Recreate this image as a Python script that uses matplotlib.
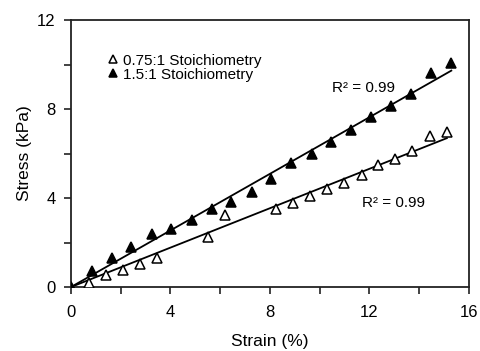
import numpy as np
import matplotlib
matplotlib.use("Agg")
import matplotlib.pyplot as plt
from matplotlib.ticker import MultipleLocator

plt.rcParams['font.family'] = ['Liberation Sans', 'DejaVu Sans']

# 0.75:1 stoichiometry (open triangles)
strain_a = [0, 0.72, 1.41, 2.10, 2.77, 3.47, 5.51, 6.18, 8.26, 8.93, 9.62,
            10.30, 10.98, 11.69, 12.34, 13.02, 13.72, 14.42, 15.11]
stress_a = [0, 0.19, 0.54, 0.76, 1.02, 1.32, 2.23, 3.24, 3.49, 3.76, 4.09,
            4.39, 4.69, 5.02, 5.47, 5.75, 6.11, 6.79, 6.95]

# 1.5:1 stoichiometry (filled triangles)
strain_b = [0, 0.83, 1.63, 2.41, 3.24, 4.04, 4.85, 5.65, 6.45, 7.28, 8.06,
            8.86, 9.67, 10.47, 11.27, 12.08, 12.88, 13.68, 14.49, 15.29]
stress_b = [0, 0.72, 1.29, 1.81, 2.37, 2.59, 3.01, 3.50, 3.80, 4.28, 4.84,
            5.59, 6.00, 6.53, 7.06, 7.65, 8.13, 8.67, 9.63, 10.08]

labels = ['0.75:1 Stoichiometry', '1.5:1 Stoichiometry']
r2_text = 'R² = 0.99'

fig = plt.figure(figsize=(4.81, 3.51), dpi=100)
ax = fig.add_axes([0.1476, 0.1823, 0.8274, 0.7607])

ink = '#222222'
for xs, ys, fill, lab in [(strain_a, stress_a, 'white', labels[0]),
                          (strain_b, stress_b, 'black', labels[1])]:
    x = np.array(xs); y = np.array(ys)
    slope = np.sum(x * y) / np.sum(x * x)   # trendline through origin
    xl = np.array([0, x.max()])
    ax.plot(xl, slope * xl, color='black', lw=1.3, zorder=2)
    ax.plot(x, y, ls='none', marker='^', ms=6.5, mfc=fill, mec='black',
            mew=1.1, label=lab, zorder=3)

ax.text(10.5, 8.95, r2_text, fontsize=11, va='center', ha='left')
ax.text(11.7, 3.78, r2_text, fontsize=11, va='center', ha='left')

ax.set_xlim(0, 16); ax.set_ylim(0, 12)
ax.xaxis.set_major_locator(MultipleLocator(4))
ax.xaxis.set_minor_locator(MultipleLocator(2))
ax.yaxis.set_major_locator(MultipleLocator(4))
ax.yaxis.set_minor_locator(MultipleLocator(2))
ax.tick_params(which='both', direction='out', length=5, width=1.2,
               color=ink, labelsize=12, top=False, right=False)
ax.tick_params(axis='x', pad=8)
ax.tick_params(axis='y', pad=6)
for s in ax.spines.values():
    s.set_linewidth(1.3); s.set_color(ink)

ax.set_xlabel('Strain (%)', fontsize=12.5, labelpad=10)
ax.set_ylabel('Stress (kPa)', fontsize=12.5, labelpad=4)

leg = ax.legend(loc='upper left', bbox_to_anchor=(0.075, 0.903), frameon=False,
                handlelength=0.6, handletextpad=0.35, labelspacing=0.0,
                fontsize=11, borderpad=0, markerscale=0.85)

fig.savefig('out.png', dpi=100)
